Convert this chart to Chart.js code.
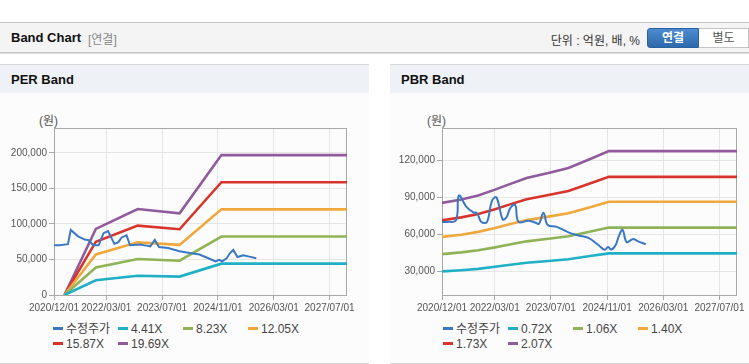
<!DOCTYPE html>
<html>
<head>
<meta charset="utf-8">
<script src="https://cdn.jsdelivr.net/npm/chart.js@4.4.1/dist/chart.umd.min.js"></script>
<style>
body { margin:0; width:749px; height:364px; position:relative; background:#fff; overflow:hidden;
       font-family:"Liberation Sans","Noto Sans CJK KR",sans-serif; }
.abs { position:absolute; }
.hdr { left:0; top:22px; width:749px; height:29px; background:#f4f4f4; border-top:1px solid #c6c6c6;
       border-bottom:1px solid #c4c4c4; box-shadow:0 1px 1px #e2e2e2; }
.hdr .t { left:11px; top:7px; font-size:13px; font-weight:bold; color:#111; }
.hdr .s { left:88px; top:7px; font-size:12px; color:#888; }
.hdr .u { right:109px; top:8px; font-size:12px; color:#333; }
.btn { top:5px; height:18px; line-height:18px; font-size:12px; text-align:center; box-sizing:border-box; }
.b1 { left:647px; width:52px; height:20px; background:linear-gradient(#4d8bd0,#2d69ab); color:#fff; font-weight:bold;
      border:1px solid #2a62a0; border-radius:3px 0 0 3px; }
.b2 { left:699px; width:50px; height:20px; background:#fff; color:#555; border:1px solid #c4c4c4; border-left:none; }
.ttl { top:64px; height:28px; background:#eef2f7; border-top:1px solid #d8d8d8; }
.ttl span { position:absolute; left:11px; top:7px; font-size:13px; font-weight:bold; color:#111; }
.body { top:93px; height:270px; background:#fcfcfc; border-bottom:1px solid #d6d6d6; }
.won { top:111px; font-size:12px; color:#555; }
.lg { position:absolute; height:14px; line-height:14px; font-size:12px; color:#444; white-space:nowrap; }
.lg i { display:inline-block; width:10px; height:3px; vertical-align:middle; margin-right:3px; margin-top:-2px; }
</style>
</head>
<body>
<div class="abs hdr">
  <span class="abs t">Band Chart</span>
  <span class="abs s">[연결]</span>
  <span class="abs u">단위 : 억원, 배, %</span>
</div>
<div class="abs btn b1" style="top:28px">연결</div>
<div class="abs btn b2" style="top:28px">별도</div>

<div class="abs ttl" style="left:0;width:369px"><span>PER Band</span></div>
<div class="abs body" style="left:0;width:369px"></div>
<div class="abs ttl" style="left:390px;width:359px"><span>PBR Band</span></div>
<div class="abs body" style="left:390px;width:359px"></div>

<div class="abs won" style="left:39px">(원)</div>
<div class="abs won" style="left:427px">(원)</div>

<div class="abs" style="left:0;top:100px;width:369px;height:220px"><canvas id="perChart" width="369" height="220"></canvas></div>
<div class="abs" style="left:390px;top:100px;width:359px;height:220px"><canvas id="pbrChart" width="359" height="220"></canvas></div>

<script>
// x axis: months counted from 2020/12/01
var xTickMonths = [0, 15, 31, 47, 63, 79];
var xTickLabels = ['2020/12/01', '2022/03/01', '2023/07/01', '2024/11/01', '2026/03/01', '2027/07/01'];

// 수정주가 (same in both charts)
var priceMonths = [0, 1.5, 4.0, 4.8, 6.9, 8.8, 10.0, 11.2, 12.8, 14.2, 15.5, 17.3, 18.4, 19.4, 20.8, 21.8,
                   24.6, 26.5, 27.6, 28.9, 30.1, 32.7, 36.0, 38.9, 41.7, 44.6, 46.3, 47.3, 48.2, 49.5,
                   50.3, 51.4, 52.6, 54.3, 56.0, 58.0];
var priceValues = [70000, 70000, 71500, 91500, 82500, 78000, 77000, 70000, 70000, 87000, 90000, 72000, 74000, 81000, 84000, 70000,
                   71000, 69500, 68500, 77500, 67500, 66000, 61500, 59000, 57000, 51000, 47300, 49500, 47500, 51500,
                   58000, 63500, 53500, 56000, 54000, 51800];

// PER band
var perNames = ['수정주가', '4.41X', '8.23X', '12.05X', '15.87X', '19.69X'];
var perBandMonths = [3, 12, 24, 36, 48, 84];
var per441 = [0, 20800, 27100, 25900, 44100, 44100];
var per823 = [0, 38800, 50600, 48300, 82300, 82300];
var per1205 = [0, 57000, 74100, 70500, 120500, 120500];
var per1587 = [0, 75000, 97600, 92500, 158700, 158700];
var per1969 = [0, 93000, 121000, 115000, 196900, 196900];
var perYTicks = [0, 50000, 100000, 150000, 200000];

// PBR band
var pbrNames = ['수정주가', '0.72X', '1.06X', '1.40X', '1.73X', '2.07X'];
var pbrBandMonths = [0, 5.5, 10.3, 15.1, 18.9, 24.1, 30.3, 36, 41.7, 47.5, 84];
var pbr072 = [29700, 30700, 31800, 33500, 34900, 36800, 38200, 39600, 42000, 44400, 44400];
var pbr106 = [43800, 45200, 46900, 49300, 51400, 54200, 56300, 58300, 61800, 65400, 65400];
var pbr140 = [57800, 59600, 61900, 65100, 67900, 71500, 74300, 77000, 81600, 86400, 86400];
var pbr173 = [71400, 73700, 76500, 80400, 83900, 88400, 91900, 95200, 100900, 106700, 106700];
var pbr207 = [85500, 88200, 91500, 96300, 100400, 105800, 109900, 113900, 120700, 127700, 127700];
var pbrYTicks = [30000, 60000, 90000, 120000];

var lineColors = ['#3a78c3', '#1fb0c6', '#8fb356', '#f0a83c', '#d8342c', '#8f5b9d'];

function pts(xs, ys) {
  return xs.map(function (x, i) { return { x: x, y: ys[i] }; });
}

// grey box round the plot area
var frame = {
  id: 'frame',
  beforeDatasetsDraw: function (chart) {
    var a = chart.chartArea, c = chart.ctx;
    c.save();
    c.strokeStyle = '#a8a8a8';
    c.lineWidth = 1;
    c.strokeRect(Math.round(a.left) + 0.5, Math.round(a.top) + 0.5,
                 Math.round(a.right - a.left) - 1, Math.round(a.bottom - a.top));
    c.restore();
  }
};

function makeChart(id, series, yMin, yMax, yTicks, yWidth, padRight, priceTension) {
  var datasets = series.map(function (s, i) {
    return {
      label: s.name,
      data: s.data,
      borderColor: lineColors[i],
      borderWidth: i === 0 ? 2 : 2.6,
      pointRadius: 0,
      tension: i === 0 ? priceTension : 0,
      fill: false
    };
  });
  return new Chart(document.getElementById(id), {
    type: 'line',
    data: { datasets: datasets },
    options: {
      responsive: false,
      animation: false,
      parsing: false,
      layout: { padding: { top: 28, right: padRight, left: 0, bottom: 0 } },
      plugins: { legend: { display: false }, tooltip: { enabled: false } },
      scales: {
        x: {
          type: 'linear', min: 0, max: 84,
          afterBuildTicks: function (axis) { axis.ticks = xTickMonths.map(function (v) { return { value: v }; }); },
          afterFit: function (scale) { scale.height = 25; },
          ticks: {
            autoSkip: false, maxRotation: 0, padding: 2, color: '#555',
            font: { family: 'Liberation Sans', size: 10 },
            callback: function (v) { return xTickLabels[xTickMonths.indexOf(v)]; }
          },
          grid: { color: '#e6e6e6', tickColor: '#a8a8a8', tickLength: 5 },
          border: { display: false }
        },
        y: {
          min: yMin, max: yMax,
          afterBuildTicks: function (axis) { axis.ticks = yTicks.map(function (v) { return { value: v }; }); },
          afterFit: function (scale) { scale.width = yWidth; },
          ticks: {
            padding: 2, color: '#555',
            font: { family: 'Liberation Sans', size: 10 },
            callback: function (v) { return v.toLocaleString('en-US'); }
          },
          grid: { color: '#e6e6e6', tickColor: '#a8a8a8', tickLength: 5 },
          border: { display: false }
        }
      }
    },
    plugins: [frame]
  });
}

makeChart('perChart', [
  { name: perNames[0], data: pts(priceMonths, priceValues) },
  { name: perNames[1], data: pts(perBandMonths, per441) },
  { name: perNames[2], data: pts(perBandMonths, per823) },
  { name: perNames[3], data: pts(perBandMonths, per1205) },
  { name: perNames[4], data: pts(perBandMonths, per1587) },
  { name: perNames[5], data: pts(perBandMonths, per1969) }
], 0, 235000, perYTicks, 54, 22, 0);

makeChart('pbrChart', [
  { name: pbrNames[0], data: pts(priceMonths, priceValues) },
  { name: pbrNames[1], data: pts(pbrBandMonths, pbr072) },
  { name: pbrNames[2], data: pts(pbrBandMonths, pbr106) },
  { name: pbrNames[3], data: pts(pbrBandMonths, pbr140) },
  { name: pbrNames[4], data: pts(pbrBandMonths, pbr173) },
  { name: pbrNames[5], data: pts(pbrBandMonths, pbr207) }
], 10500, 146500, pbrYTicks, 52, 12, 0.4);

// html legends, 4 columns
function buildLegend(names, left) {
  names.forEach(function (n, i) {
    var d = document.createElement('div');
    d.className = 'lg';
    d.style.left = (left + (i % 4) * 65) + 'px';
    d.style.top = (i < 4 ? 322 : 337) + 'px';
    d.innerHTML = '<i style="background:' + lineColors[i] + '"></i>' + n;
    document.body.appendChild(d);
  });
}
buildLegend(perNames, 53);
buildLegend(pbrNames, 443);
</script>
</body>
</html>
